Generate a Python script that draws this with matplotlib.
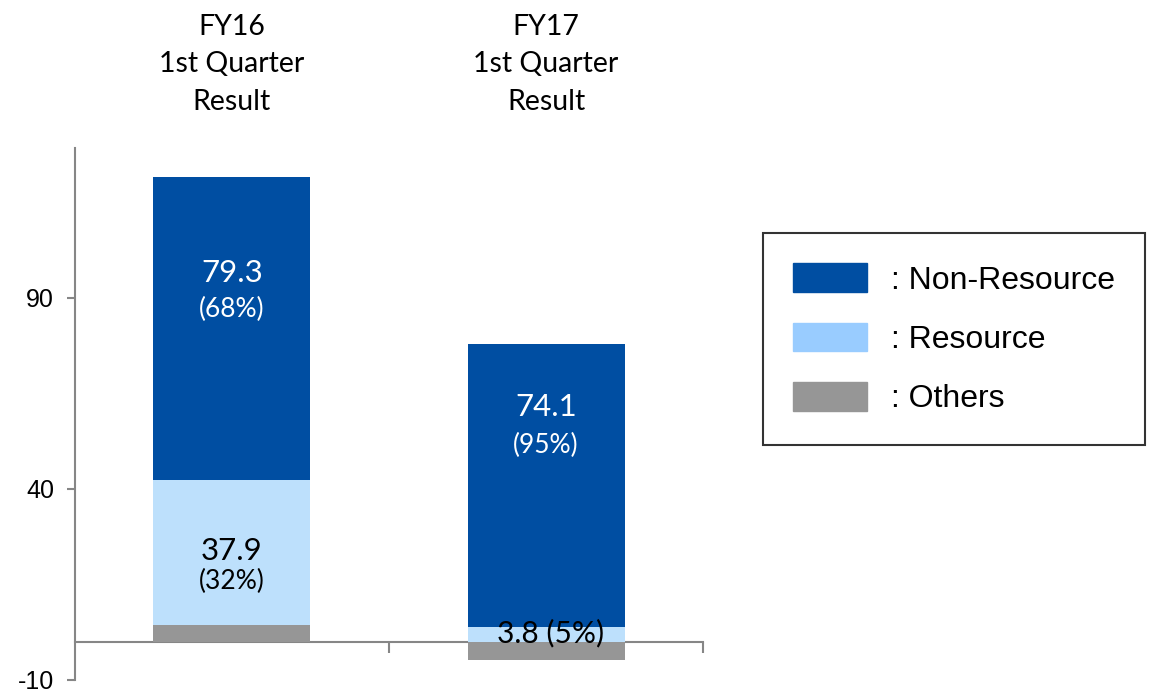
import numpy as np
import matplotlib
matplotlib.use("Agg")
import matplotlib.pyplot as plt
from matplotlib.patches import Patch
import matplotlib.transforms as mtransforms

# data
periods = ["FY16\n1st Quarter\nResult", "FY17\n1st Quarter\nResult"]
non_resource = [79.3, 74.1]
resource = [37.9, 3.8]
others = [4.3, -4.8]
non_res_pct = ["(68%)", "(95%)"]
res_pct = ["(32%)", "(5%)"]
yticks = [-10, 40, 90]

DARK = "#004EA2"
LIGHT = "#BDE0FC"
LIGHT_LEG = "#99CCFF"
GRAY = "#969696"
AXC = "#868686"

fig = plt.figure(figsize=(11.55, 6.99), dpi=100)
ax = fig.add_axes([0.0649, 0.0272, 0.5438, 0.7611])

x = np.arange(len(periods))
w = 0.5
oth = np.array(others)
res_bottom = np.where(oth > 0, oth, 0)
nr_bottom = res_bottom + np.array(resource)

ax.bar(x, others, w, color=GRAY, zorder=2)
ax.bar(x, resource, w, bottom=res_bottom, color=LIGHT, zorder=2)
ax.bar(x, non_resource, w, bottom=nr_bottom, color=DARK, zorder=2)

ax.set_xlim(-0.5, 1.5)
ax.set_ylim(-10, 129.2)

for s in ["top", "right"]:
    ax.spines[s].set_visible(False)
ax.spines["bottom"].set_position(("data", 0))
for s in ["left", "bottom"]:
    ax.spines[s].set_color(AXC)
    ax.spines[s].set_linewidth(1.5)
    ax.spines[s].set_zorder(1)

ax.set_yticks(yticks)
ax.set_yticklabels([str(t) for t in yticks], family="Liberation Sans", fontsize=18)
ax.tick_params(axis="y", direction="out", length=6, width=1.5, color=AXC, pad=9)
ax.set_xticks([0.5, 1.5])
ax.set_xticklabels([])
ax.tick_params(axis="x", direction="out", length=8, width=1.5, color=AXC)

lato = "Lato"
# FY16 labels
top0 = nr_bottom[0] + non_resource[0]
ax.text(x[0], top0 - 25, f"{non_resource[0]:.1f}", ha="center", va="center",
        color="white", fontsize=22.5, family=lato, zorder=3)
ax.text(x[0], top0 - 34.5, non_res_pct[0], ha="center", va="center",
        color="white", fontsize=19, family=lato, zorder=3)
ax.text(x[0], res_bottom[0] + 19.5, f"{resource[0]:.1f}", ha="center", va="center",
        color="black", fontsize=22.5, family=lato, zorder=3)
ax.text(x[0], res_bottom[0] + 11.5, res_pct[0], ha="center", va="center",
        color="black", fontsize=19, family=lato, zorder=3)
# FY17 labels
top1 = nr_bottom[1] + non_resource[1]
ax.text(x[1], top1 - 16.5, f"{non_resource[1]:.1f}", ha="center", va="center",
        color="white", fontsize=22.5, family=lato, zorder=3)
ax.text(x[1], top1 - 26.5, non_res_pct[1], ha="center", va="center",
        color="white", fontsize=19, family=lato, zorder=3)
ax.text(x[1] + 0.013, 2.2, f"{resource[1]:.1f} {res_pct[1]}", ha="center", va="center",
        color="black", fontsize=21.5, family=lato, zorder=3)

# category headers
trans = mtransforms.blended_transform_factory(ax.transData, fig.transFigure)
for xi, p in zip(x, periods):
    ax.text(xi, 0.908, p, transform=trans, ha="center", va="center",
            fontsize=20.5, family=lato, linespacing=1.55)

handles = [Patch(color=DARK), Patch(color=LIGHT_LEG), Patch(color=GRAY)]
labels = [": Non-Resource", ": Resource", ": Others"]
leg = fig.legend(handles, labels, loc="upper left",
                 bbox_to_anchor=(763 / 1155, 1 - 233 / 699),
                 borderaxespad=0, fancybox=False, frameon=True,
                 prop={"family": "Liberation Sans", "size": 23},
                 handlelength=2.3, handleheight=1.0, handletextpad=0.75,
                 labelspacing=0.85, borderpad=0.95)
leg.get_frame().set_edgecolor("black")
leg.get_frame().set_linewidth(1.5)

fig.savefig("out.png", dpi=100)
